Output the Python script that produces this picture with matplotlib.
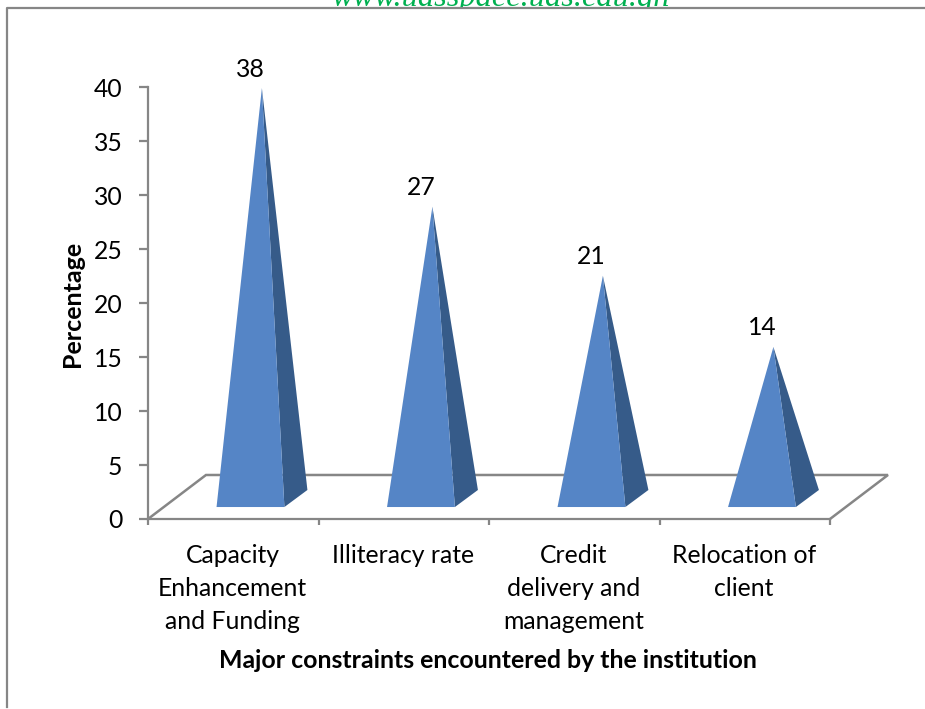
import matplotlib
matplotlib.use("Agg")
import matplotlib.pyplot as plt
from matplotlib.patches import Polygon, Rectangle
from matplotlib.lines import Line2D

categories = ["Capacity\nEnhancement\nand Funding", "Illiteracy rate",
              "Credit\ndelivery and\nmanagement", "Relocation of\nclient"]
values = [38, 27, 20.6, 14]
yticks = [0, 5, 10, 15, 20, 25, 30, 35, 40]

W, H = 925, 709
GREY = "#868686"
plt.rcParams["font.family"] = ["Lato", "DejaVu Sans"]
fig = plt.figure(figsize=(W / 100, H / 100), dpi=100)

x0, x1, ytop, ybot = 148, 830, 87.5, 519
ax = fig.add_axes([x0 / W, 1 - ybot / H, (x1 - x0) / W, (ybot - ytop) / H])
ax.set_xlim(0, 4)
ax.set_ylim(0, 40)
ax.patch.set_alpha(0)
for s in ("top", "right"):
    ax.spines[s].set_visible(False)
for s in ("left", "bottom"):
    ax.spines[s].set_color(GREY)
    ax.spines[s].set_linewidth(1.6)
ax.set_yticks(yticks)
ax.tick_params(axis="y", length=6.5, width=1.6, color=GREY, labelsize=17.8, pad=12)
ax.set_xticks(range(5))
ax.set_xticklabels([""] * 5)
ax.tick_params(axis="x", which="major", length=4, width=1.6, color=GREY)
ax.set_xticks([i + 0.495 for i in range(4)], minor=True)
ax.set_xticklabels(categories, minor=True, fontsize=17.8, linespacing=1.53)
ax.tick_params(axis="x", which="minor", length=0, pad=17.8)

# floor
depth_x, depth_y = 0.34, 4.08
floor = Polygon([(0, 0), (depth_x, depth_y), (4 + depth_x, depth_y), (4, 0)], closed=False,
                fill=False, edgecolor=GREY, linewidth=1.8, clip_on=False, zorder=1)
ax.add_patch(floor)

# pyramids
for i, v in enumerate(values):
    apex = (i + 0.668, v + 1.95)
    fl, fr, br = (i + 0.402, 1.11), (i + 0.80, 1.11), (i + 0.935, 2.69)
    ax.add_patch(Polygon([fr, br, apex], facecolor="#365B89", edgecolor="none", zorder=3))
    ax.add_patch(Polygon([fl, fr, apex], facecolor="#5585C6", edgecolor="none", zorder=4))
    ax.annotate(f"{v:.0f}", (i + 0.6, v + 1.95), xytext=(0, 13.7), textcoords="offset points",
                ha="center", va="center", fontsize=17.8, color="black", annotation_clip=False)

ax.text(72 / W, 1 - 304 / H, "Percentage", transform=fig.transFigure, rotation=90,
        ha="center", va="center", fontsize=18, fontweight="bold")
ax.text(488 / W, 1 - 660 / H, "Major constraints encountered by the institution",
        transform=fig.transFigure, ha="center", va="center", fontsize=17.9, fontweight="bold")

# outer frame
fig.add_artist(Line2D([7 / W, 7 / W, 1], [0.003, 1 - 7.5 / H, 1 - 7.5 / H], color=GREY, linewidth=1.6))

# clipped header text
clip = Rectangle((0, 1 - 7 / H), 1, 7 / H, transform=fig.transFigure)
t = fig.text(500 / W, 1 - 6 / H, "www.udsspace.uds.edu.gh", family="Liberation Serif", style="italic",
             fontsize=23.3, color="#00B050", ha="center", va="baseline")
t.set_clip_path(clip)

fig.savefig("out.png", dpi=100)
